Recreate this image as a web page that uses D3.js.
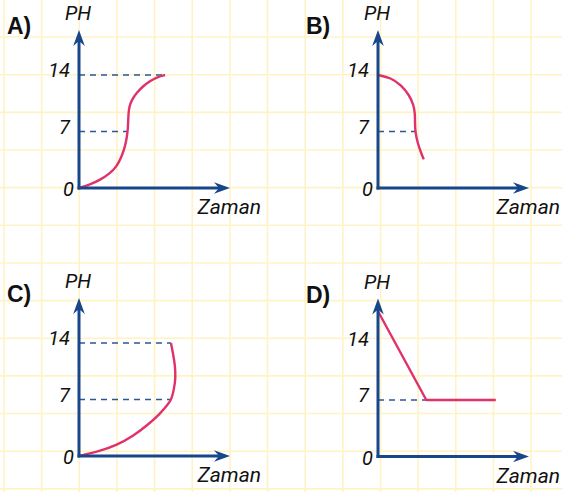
<!DOCTYPE html>
<html>
<head>
<meta charset="utf-8">
<script src="https://cdn.jsdelivr.net/npm/d3@7"></script>
<style>
  html, body { margin: 0; padding: 0; background: #fff; }
  svg { display: block; }
  .num, .axis-title { font-family: Roboto, "Noto Sans", sans-serif; font-style: italic; fill: #111; }
  .panel-label { font-family: "Liberation Sans", Arial, sans-serif; font-weight: bold; fill: #111; }
</style>
</head>
<body>
<svg id="chart" width="562" height="492"></svg>
<script>
// pH tick values shown on every vertical axis
const phTicks = [0, 7, 14];

// Panel letters and where their origins sit
const panelNames = ["A)", "B)", "C)", "D)"];
const originX = [79, 378, 79, 378];
const originY = [188, 188, 456, 456.5];

// pH curves, as [time, pH] pairs
const curveA = [[0,0],[0.73,0.42],[1.39,0.99],[2.05,1.82],[2.49,2.64],[2.82,3.88],[3.05,5.12],[3.18,6.4],[3.24,7.4],[3.26,8.4],[3.28,9.3],[3.33,10.07],[3.49,10.9],[3.82,11.81],[4.26,12.64],[4.70,13.25],[5.14,13.71],[5.70,14]];
const curveB = [[0,14],[0.86,13.66],[1.52,12.76],[2.07,11.52],[2.36,10.28],[2.45,9.25],[2.45,8.01],[2.47,6.9],[2.63,5.54],[2.85,4.37],[3.03,3.55]];
const curveC = [[0,0],[1.39,0.62],[2.50,1.33],[3.60,2.49],[4.48,3.74],[5.36,5.20],[5.91,6.44],[6.14,7.07],[6.29,8.32],[6.40,9.56],[6.36,11.22],[6.25,12.47],[6.09,14.0]];
const curveD = [[0,18],[3.2,7],[7.8,7]];
const curves = [curveA, curveB, curveC, curveD];
const smooth = [true, true, true, false];

// Dashed reference lines: [pH, time where the line stops]
const guidesA = [[14, 5.70], [7, 3.22]];
const guidesB = [[7, 2.46]];
const guidesC = [[14, 6.09], [7, 6.12]];
const guidesD = [[7, 3.2]];
const guides = [guidesA, guidesB, guidesC, guidesD];

const W = 562, H = 492;
const svg = d3.select("#chart");

const AXIS = "#17478a", DASH = "#2b5797", CURVE = "#e0316b", GRID = "#fff3c6";

// Squared paper background
const gridStep = 37.65;
const gx = d3.range(4, W, gridStep);
const gy = d3.range(-0.6 + gridStep, H, gridStep);
svg.append("g").selectAll("line.v").data(gx).join("line")
  .attr("x1", d => d).attr("x2", d => d).attr("y1", 0).attr("y2", H)
  .attr("stroke", GRID).attr("stroke-width", 1.6);
svg.append("g").selectAll("line.h").data(gy).join("line")
  .attr("y1", d => d).attr("y2", d => d).attr("x1", 0).attr("x2", W)
  .attr("stroke", GRID).attr("stroke-width", 1.6);

const xLen = 151;      // horizontal axis length up to arrow tip
const yLen = 158;      // vertical axis length up to arrow tip

panelNames.forEach((name, i) => {
  const ox = originX[i], oy = originY[i];
  const x = d3.scaleLinear().domain([0, 10]).range([ox, ox + xLen]);
  const y = d3.scaleLinear().domain([0, 14]).range([oy, oy - 113]);
  const g = svg.append("g");

  // dashed guides
  g.selectAll("line.guide").data(guides[i]).join("line")
    .attr("x1", x(0)).attr("x2", d => x(d[1]))
    .attr("y1", d => y(d[0])).attr("y2", d => y(d[0]))
    .attr("stroke", DASH).attr("stroke-width", 1.5)
    .attr("stroke-dasharray", "6,5");

  // curve
  const line = d3.line().x(d => x(d[0])).y(d => y(d[1]))
    .curve(smooth[i] ? d3.curveBasis : d3.curveLinear);
  g.append("path").datum(curves[i]).attr("d", line)
    .attr("fill", "none").attr("stroke", CURVE).attr("stroke-width", 2.4)
    .attr("stroke-linejoin", "round");

  // axes with arrowheads
  const tipX = ox + xLen, tipY = oy - yLen;
  g.append("line").attr("x1", ox).attr("y1", oy + 1.5).attr("x2", ox).attr("y2", tipY + 10)
    .attr("stroke", AXIS).attr("stroke-width", 3);
  g.append("line").attr("x1", ox - 1.5).attr("y1", oy).attr("x2", tipX - 10).attr("y2", oy)
    .attr("stroke", AXIS).attr("stroke-width", 3);
  g.append("path")
    .attr("d", `M${ox},${tipY} L${ox - 5.8},${tipY + 16} L${ox},${tipY + 11} L${ox + 5.8},${tipY + 16} Z`)
    .attr("fill", AXIS);
  g.append("path")
    .attr("d", `M${tipX},${oy} L${tipX - 16},${oy - 5.8} L${tipX - 11},${oy} L${tipX - 16},${oy + 5.8} Z`)
    .attr("fill", AXIS);

  // tick labels
  g.selectAll("text.num").data(phTicks).join("text")
    .attr("class", "num")
    .attr("x", d => d === 0 ? ox - 5 : ox - 9)
    .attr("y", d => d === 0 ? y(d) + 8 : y(d) + 2)
    .attr("text-anchor", "end")
    .attr("font-size", 20)
    .text(d => d);

  // axis titles
  g.append("text").attr("class", "axis-title")
    .attr("x", ox - 1).attr("y", oy - 168)
    .attr("text-anchor", "middle").attr("font-size", 20).text("PH");
  g.append("text").attr("class", "axis-title")
    .attr("x", ox + 182).attr("y", oy + 26)
    .attr("text-anchor", "end").attr("font-size", 21).text("Zaman");

  // panel letter
  g.append("text").attr("class", "panel-label")
    .attr("x", ox - 72).attr("y", oy - 154)
    .attr("font-size", 23).text(name);
});
</script>
</body>
</html>
